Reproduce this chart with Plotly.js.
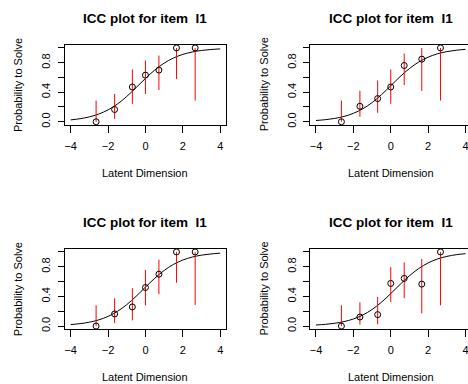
<!DOCTYPE html>
<html>
<head>
<meta charset="utf-8">
<script src="https://cdn.plot.ly/plotly-3.0.1.min.js"></script>
<style>
html,body{margin:0;padding:0;background:#fff;overflow:hidden;width:468px;height:384px;}
#chart{width:480px;height:384px;}
</style>
</head>
<body>
<div id="chart"></div>
<script>
// ---- data ----
var groupX = [-2.64, -1.65, -0.70, 0.0, 0.72, 1.66, 2.66];

var p1Y     = [0.0, 0.166, 0.471, 0.632, 0.70, 1.0, 1.0];
var p1Upper = [0.287, 0.377, 0.709, 0.83, 0.897, 1.0, 1.0];
var p1Lower = [0.0, 0.04, 0.242, 0.377, 0.43, 0.578, 0.287];

var p2Y     = [0.0, 0.21, 0.314, 0.471, 0.762, 0.848, 1.0];
var p2Upper = [0.287, 0.42, 0.56, 0.709, 0.924, 1.0, 1.0];
var p2Lower = [0.0, 0.067, 0.12, 0.242, 0.498, 0.417, 0.287];

var p3Y     = [0.0, 0.163, 0.258, 0.52, 0.70, 1.0, 1.0];
var p3Upper = [0.28, 0.375, 0.51, 0.756, 0.896, 1.0, 1.0];
var p3Lower = [0.0, 0.04, 0.077, 0.28, 0.43, 0.584, 0.285];

var p4Y     = [0.0, 0.122, 0.154, 0.575, 0.643, 0.566, 1.0];
var p4Upper = [0.28, 0.32, 0.394, 0.796, 0.86, 0.905, 1.0];
var p4Lower = [0.0, 0.018, 0.023, 0.326, 0.376, 0.172, 0.28];

var curveX  = [-4, -3.5, -3, -2.5, -2, -1.5, -1, -0.5, 0, 0.5, 1, 1.5, 2, 2.5, 3, 3.5, 4];
var curve1Y = [0.025, 0.041, 0.066, 0.104, 0.161, 0.240, 0.343, 0.463, 0.587, 0.701, 0.794, 0.864, 0.913, 0.945, 0.966, 0.979, 0.987];
var curve2Y = [0.017, 0.028, 0.045, 0.072, 0.114, 0.175, 0.259, 0.366, 0.488, 0.611, 0.721, 0.810, 0.875, 0.921, 0.950, 0.969, 0.981];
var curve3Y = [0.020, 0.032, 0.052, 0.083, 0.130, 0.198, 0.289, 0.401, 0.525, 0.646, 0.750, 0.832, 0.891, 0.931, 0.957, 0.973, 0.984];
var curve4Y = [0.014, 0.023, 0.037, 0.060, 0.095, 0.148, 0.223, 0.321, 0.438, 0.562, 0.679, 0.777, 0.852, 0.905, 0.940, 0.963, 0.977];

var xTickVals = [-4, -2, 0, 2, 4];
var xTickText = ["\u22124", "\u22122", "0", "2", "4"];
var yTickVals = [0, 0.2, 0.4, 0.6, 0.8, 1.0];
var yTickText = ["0.0", "", "0.4", "", "0.8", ""];

var mainTitle = "ICC plot for item \u00a0I1";
var xTitle = "Latent Dimension";
var yTitle = "Probability to Solve";

// ---- layout geometry (pixels) ----
var W = 480, H = 384;
var FONT = "Liberation Sans, Arial, Helvetica, sans-serif";
function px(x){ return x / W; }
function py(y){ return 1 - y / H; }

var panels = [
  {y: p1Y, up: p1Upper, lo: p1Lower, cy: curve1Y, box: [64.7, 226.2, 45, 124.7]},
  {y: p2Y, up: p2Upper, lo: p2Lower, cy: curve2Y, box: [310, 471.5, 45, 124.7]},
  {y: p3Y, up: p3Upper, lo: p3Lower, cy: curve3Y, box: [64.7, 226.2, 249, 329]},
  {y: p4Y, up: p4Upper, lo: p4Lower, cy: curve4Y, box: [310, 471.5, 249, 329]}
];

var data = [];
var layout = {
  width: W, height: H,
  margin: {l: 0, r: 0, t: 0, b: 0},
  paper_bgcolor: "#fff", plot_bgcolor: "#fff",
  showlegend: false,
  font: {family: FONT, size: 11, color: "#000"},
  annotations: []
};

panels.forEach(function(p, i){
  var n = i + 1;
  var xa = "x" + (n === 1 ? "" : n), ya = "y" + (n === 1 ? "" : n);
  var plus = p.up.map(function(u, k){ return u - p.y[k]; });
  var minus = p.lo.map(function(l, k){ return p.y[k] - l; });
  data.push({
    x: curveX, y: p.cy, xaxis: xa, yaxis: ya, mode: "lines",
    line: {color: "#000", width: 1, shape: "spline"}, hoverinfo: "skip"
  });
  data.push({
    x: groupX, y: p.y, xaxis: xa, yaxis: ya, mode: "markers",
    marker: {symbol: "circle-open", size: 6, color: "#000", line: {width: 1, color: "#000"}},
    error_y: {type: "data", symmetric: false, array: plus, arrayminus: minus,
              color: "#ff0000", thickness: 1, width: 0},
    cliponaxis: false
  });
  var b = p.box;
  layout["xaxis" + (n === 1 ? "" : n)] = {
    domain: [px(b[0]), px(b[1])], anchor: ya, range: [-4.32, 4.32],
    tickmode: "array", tickvals: xTickVals, ticktext: xTickText,
    ticks: "outside", ticklen: 7, tickcolor: "#000", tickwidth: 1,
    showline: true, mirror: true, linecolor: "#000", linewidth: 1,
    showgrid: false, zeroline: false, fixedrange: true,
    tickfont: {family: FONT, size: 11, color: "#000"}, ticklabelstandoff: 4
  };
  layout["yaxis" + (n === 1 ? "" : n)] = {
    domain: [py(b[3]), py(b[2])], anchor: xa, range: [-0.04, 1.04],
    tickmode: "array", tickvals: yTickVals, ticktext: yTickText,
    ticks: "outside", ticklen: 6, tickcolor: "#000", tickwidth: 1, tickangle: -90,
    showline: true, mirror: true, linecolor: "#000", linewidth: 1,
    showgrid: false, zeroline: false, fixedrange: true,
    tickfont: {family: FONT, size: 11, color: "#000"}, ticklabelstandoff: 3
  };
  var cx = (b[0] + b[1]) / 2, cyy = (b[2] + b[3]) / 2;
  var top = b[2];
  layout.annotations.push({
    text: "<b>" + mainTitle + "</b>", xref: "paper", yref: "paper",
    x: px(cx), y: py(top - 26.7), xanchor: "center", yanchor: "middle",
    showarrow: false, font: {family: FONT, size: 13.5, color: "#000"}
  });
  layout.annotations.push({
    text: xTitle, xref: "paper", yref: "paper",
    x: px(cx), y: py(top + 127.7), xanchor: "center", yanchor: "middle",
    showarrow: false, font: {family: FONT, size: 11, color: "#000"}
  });
  layout.annotations.push({
    text: yTitle, xref: "paper", yref: "paper", textangle: -90,
    x: px(b[0] - 46.5), y: py(cyy), xanchor: "center", yanchor: "middle",
    showarrow: false, font: {family: FONT, size: 11, color: "#000"}
  });
});

Plotly.newPlot("chart", data, layout, {displayModeBar: false, staticPlot: true});
</script>
</body>
</html>
